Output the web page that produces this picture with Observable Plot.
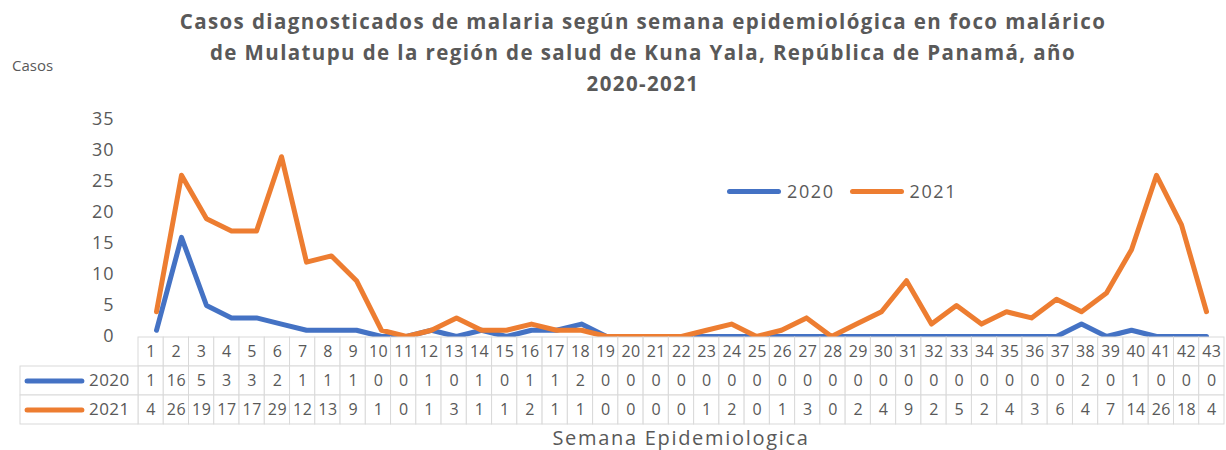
<!DOCTYPE html>
<html><head><meta charset="utf-8">
<script src="https://cdn.jsdelivr.net/npm/d3@7"></script>
<script src="https://cdn.jsdelivr.net/npm/@observablehq/plot@0.6"></script>
<style>
body{margin:0;background:#fff;font-family:"Open Sans",sans-serif;color:#595959}
#wrap{position:relative;width:1226px;height:450px;overflow:hidden;background:#fff}
#wrap > *{position:absolute}
.title{left:143px;width:1000px;top:6px;text-align:center;font-weight:bold;font-size:20.5px;letter-spacing:1.4px;line-height:31px;color:#595959}
.casos{left:12px;top:54px;font-size:15px;line-height:22px}
.xtitle{left:431px;width:500px;top:426px;text-align:center;font-size:20px;letter-spacing:1.7px;line-height:24px}
.legend{left:727px;top:178px;display:flex;align-items:center;font-size:18px;letter-spacing:1.6px;line-height:26px}
.legend .sw{display:inline-block;width:54px;height:5px;border-radius:3px;margin-right:6px}
.legend .it{display:flex;align-items:center;margin-right:15px}
</style></head><body><div id="wrap"></div>
<script>
const weeks = [1,2,3,4,5,6,7,8,9,10,11,12,13,14,15,16,17,18,19,20,21,22,23,24,25,26,27,28,29,30,31,32,33,34,35,36,37,38,39,40,41,42,43];
const cases2020 = [1,16,5,3,3,2,1,1,1,0,0,1,0,1,0,1,1,2,0,0,0,0,0,0,0,0,0,0,0,0,0,0,0,0,0,0,0,2,0,1,0,0,0];
const cases2021 = [4,26,19,17,17,29,12,13,9,1,0,1,3,1,1,2,1,1,0,0,0,0,1,2,0,1,3,0,2,4,9,2,5,2,4,3,6,4,7,14,26,18,4];
const seriesNames = ["2020","2021"];
const seriesColors = ["#4472C4","#ED7D31"];
const yTicks = [0,5,10,15,20,25,30,35];
const titleText = ["Casos diagnosticados de malaria según semana epidemiológica en foco malárico","de Mulatupu de la región de salud de Kuna Yala, República de Panamá, año","2020-2021"];
const yLabel = "Casos";
const xLabel = "Semana Epidemiologica";

const W = 1226, mL = 138, mR = 2, tableLeft = 20;
const grid = "#d9d9d9", txt = "#595959";

const long = [];
seriesNames.forEach((s, k) => {
  const vals = k === 0 ? cases2020 : cases2021;
  weeks.forEach((w, i) => long.push({week: w, value: vals[i], series: s}));
});

const chart = Plot.plot({
  width: W, height: 337,
  marginLeft: mL, marginRight: mR, marginTop: 119, marginBottom: 1,
  style: {fontFamily: '"Open Sans", sans-serif', fontSize: "18px", letterSpacing: "1px", color: txt, background: "transparent", overflow: "visible"},
  x: {type: "point", domain: weeks, padding: 0.5, axis: null},
  y: {domain: [0, 35], ticks: yTicks, tickSize: 0, tickPadding: 24, label: null},
  color: {domain: seriesNames, range: seriesColors},
  marks: [
    Plot.line(long, {x: "week", y: "value", z: "series", stroke: "series", strokeWidth: 5, strokeLinejoin: "round", strokeLinecap: "round"})
  ]
});
chart.style.left = "0px"; chart.style.top = "0px";

// Table
const colW = (W - mL - mR) / weeks.length;
const labelSpan = (mL - tableLeft) / colW;
const rows = ["Semana", ...seriesNames];
const cells = [];
weeks.forEach((w, i) => {
  cells.push({week: w, row: "Semana", text: String(w)});
  cells.push({week: w, row: "2020", text: String(cases2020[i])});
  cells.push({week: w, row: "2021", text: String(cases2021[i])});
});
const labelRows = seriesNames.map((s, k) => ({row: s, color: seriesColors[k]}));

const table = Plot.plot({
  width: W, height: 89,
  marginLeft: tableLeft, marginRight: mR, marginTop: 1, marginBottom: 1,
  style: {fontFamily: '"Open Sans", sans-serif', fontSize: "16px", letterSpacing: "0.4px", color: txt, background: "transparent", overflow: "visible"},
  x: {domain: [-labelSpan, weeks.length], axis: null},
  y: {type: "band", domain: rows, padding: 0, axis: null},
  marks: [
    Plot.barX(cells, {x1: d => d.week - 1, x2: d => d.week, y: "row", fill: "white", stroke: grid, strokeWidth: 1}),
    Plot.barX(labelRows, {x1: -labelSpan, x2: 0, y: "row", fill: "white", stroke: grid, strokeWidth: 1}),
    Plot.text(cells, {x: d => d.week - 0.5, y: "row", text: "text", fill: txt, fontSize: 16}),
    Plot.ruleY(labelRows, {y: "row", x1: -labelSpan + 0.28, x2: -labelSpan + 2.45, stroke: "color", strokeWidth: 5, strokeLinecap: "round"}),
    Plot.text(labelRows, {x: 0, y: "row", text: "row", textAnchor: "end", dx: -9, fill: txt, fontSize: 17})
  ]
});
table.style.left = "0px"; table.style.top = "336px";

const wrap = document.getElementById("wrap");
wrap.appendChild(chart);
wrap.appendChild(table);

const t = document.createElement("div");
t.className = "title";
t.innerHTML = titleText.join("<br>");
wrap.appendChild(t);

const c = document.createElement("div");
c.className = "casos"; c.textContent = yLabel; wrap.appendChild(c);

const xt = document.createElement("div");
xt.className = "xtitle"; xt.textContent = xLabel; wrap.appendChild(xt);

const lg = document.createElement("div");
lg.className = "legend";
seriesNames.forEach((s, k) => {
  const it = document.createElement("span"); it.className = "it";
  const sw = document.createElement("span"); sw.className = "sw"; sw.style.background = seriesColors[k];
  it.appendChild(sw); it.appendChild(document.createTextNode(s));
  lg.appendChild(it);
});
wrap.appendChild(lg);
</script></body></html>
